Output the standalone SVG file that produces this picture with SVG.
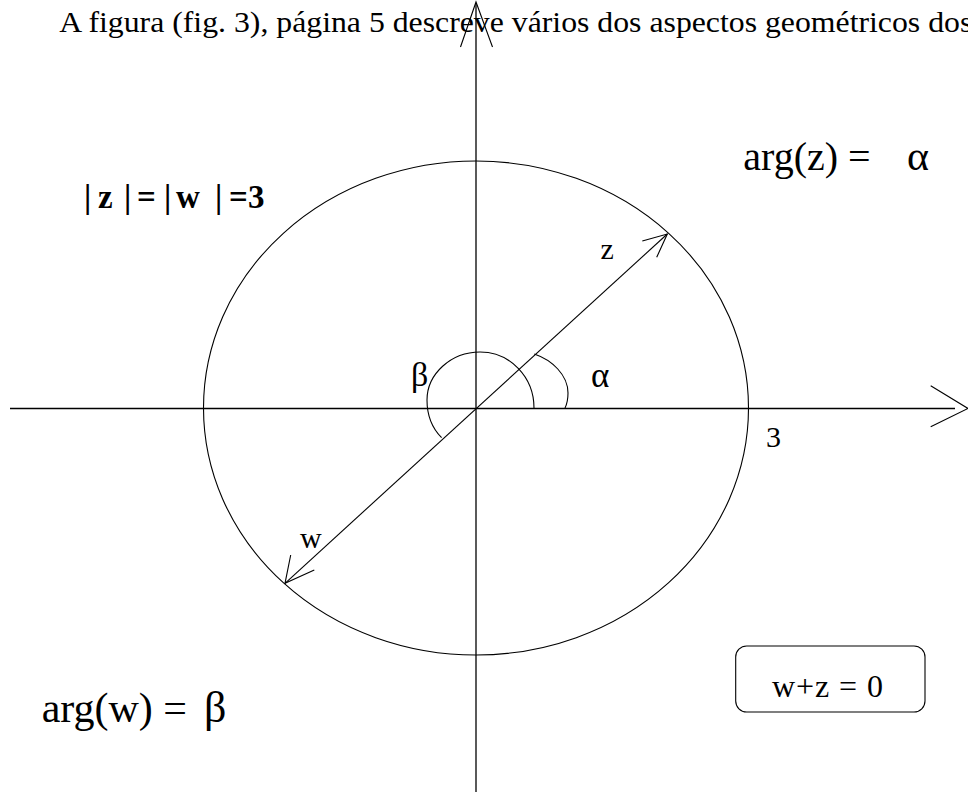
<svg xmlns="http://www.w3.org/2000/svg" width="968" height="792" viewBox="0 0 968 792">
<style>
.ln{fill:none;stroke:#000;stroke-width:1.1;stroke-linejoin:miter}
.ax{fill:none;stroke:#000;stroke-width:1.3}
.t{font-family:"Liberation Serif","Times New Roman",serif;fill:#000}
.b{font-family:"Liberation Serif","Times New Roman",serif;font-weight:bold;fill:#000}
</style>
<rect width="968" height="792" fill="#fff"/>
<text class="t" x="59.3" y="32.3" font-size="30" textLength="913" lengthAdjust="spacingAndGlyphs">A figura (fig. 3), página 5 descreve vários dos aspectos geométricos dos</text>
<g id="circle">
<ellipse class="ln" cx="476" cy="408" rx="272.5" ry="247"/>
</g>
<g id="connectors">
<g id="x-axis">
<line class="ax" x1="10" y1="408.5" x2="955" y2="408.5"/>
<polyline class="ln" points="930.7,385.7 968,408.5 930.7,426.7"/>
</g>
<g id="y-axis">
<line class="ax" x1="476" y1="3" x2="476" y2="792"/>
<polyline class="ln" points="460.5,47 476,2 492.5,47"/>
</g>
<g id="vector-zw">
<line class="ln" x1="285" y1="583.3" x2="667.3" y2="234"/>
<polyline class="ln" points="642.3,241 667.3,234 656.7,257.3"/>
<polyline class="ln" points="290.7,555 285,583.3 314.3,570"/>
</g>
<g id="arc-beta">
<path class="ln" d="M534,408 C534,377 510,352 480,352 C451,352 427,374 427,400 C427,415 432,428 441.6,437.7"/>
</g>
<g id="arc-alpha">
<path class="ln" d="M534.3,354 C552,360 568,375 568,393 C568,400 567,404 565,408"/>
</g>
</g>
<g id="label-modulus">
<text class="b" y="208.3" font-size="33" x="84 98 124 137 164 176 215 229 248">|z|=|w|=3</text>
</g>
<g id="label-argz">
<text class="t" x="743.3" y="170" font-size="40">arg(z) =</text>
<text class="t" x="907" y="170" font-size="42">α</text>
</g>
<g id="label-argw">
<text class="t" x="41.7" y="721.7" font-size="42">arg(w) =</text>
<text class="t" x="204" y="721.7" font-size="44">β</text>
</g>
<g id="label-z"><text class="t" x="600.5" y="259" font-size="30">z</text></g>
<g id="label-w"><text class="t" x="300" y="547.5" font-size="30">w</text></g>
<g id="label-3"><text class="t" x="766" y="447" font-size="30">3</text></g>
<g id="label-beta"><text class="t" x="411" y="386" font-size="34">β</text></g>
<g id="label-alpha"><text class="t" x="591" y="387" font-size="35">α</text></g>
<g id="box-sum">
<rect class="ln" x="735.7" y="646" width="189.3" height="66" rx="11"/>
<text class="t" x="772" y="697" font-size="32" textLength="111">w+z = 0</text>
</g>
</svg>
